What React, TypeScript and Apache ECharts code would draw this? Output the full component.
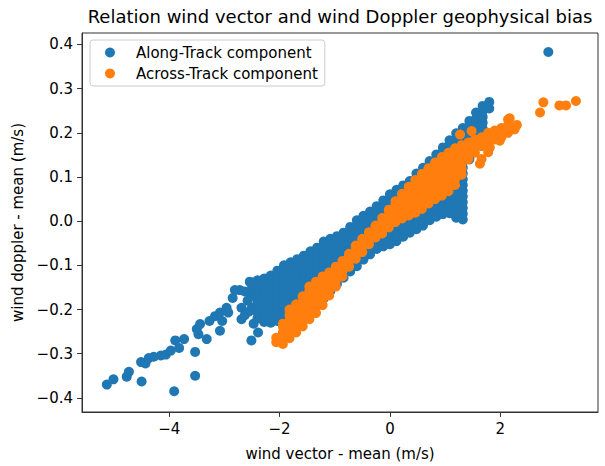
import React, { useEffect, useRef } from 'react';
import * as echarts from 'echarts';

const TITLE = 'Relation wind vector and wind Doppler geophysical bias';
const X_NAME = 'wind vector - mean (m/s)';
const Y_NAME = 'wind doppler - mean (m/s)';
const SERIES_NAMES = ['Along-Track component', 'Across-Track component'];
const X_TICKS = [-4, -2, 0, 2];
const Y_TICKS = [-0.4, -0.3, -0.2, -0.1, 0, 0.1, 0.2, 0.3, 0.4];

// Along-track: isolated points [x, y]
const alongScattered: number[][] = [
  [-5.13, -0.37], [-5.01, -0.358], [-4.77, -0.352], [-4.73, -0.341], [-4.5, -0.363],
  [-4.51, -0.319], [-4.43, -0.322], [-4.37, -0.31], [-4.28, -0.307], [-4.15, -0.304],
  [-4.06, -0.302], [-3.97, -0.293], [-3.91, -0.385], [-3.89, -0.27], [-3.82, -0.287],
  [-3.73, -0.267], [-3.53, -0.296], [-3.53, -0.35], [-3.5, -0.244], [-3.47, -0.256],
  [-3.44, -0.233], [-3.32, -0.267], [-3.27, -0.226], [-3.17, -0.215], [-3.08, -0.248],
  [-3.04, -0.226], [-2.96, -0.196], [-2.93, -0.207], [-2.85, -0.174], [-2.72, -0.156],
  [-2.63, -0.159], [-2.69, -0.196], [-2.69, -0.222], [-2.63, -0.213], [-2.54, -0.137],
  [-2.51, -0.27], [-2.39, -0.252], [-2.41, -0.144], [-2.81, -0.156], [-3.08, -0.207],
  [-2.58, -0.18], [-2.47, -0.232], [-2.56, -0.205],
  [2.87, 0.383],
];

// Along-track: dense band, each row is [x, y1, y2, ...]
const alongDense: number[][] = [
  [-2.50, -0.196, -0.168, -0.152, -0.142],
  [-2.40, -0.22, -0.207, -0.194, -0.181, -0.168, -0.155, -0.142, -0.134],
  [-2.28, -0.228, -0.215, -0.202, -0.189, -0.176, -0.163, -0.15, -0.137, -0.13],
  [-2.16, -0.23, -0.212, -0.199, -0.186, -0.173, -0.16, -0.147, -0.134, -0.123],
  [-2.04, -0.226, -0.209, -0.196, -0.183, -0.17, -0.157, -0.144, -0.131, -0.118, -0.112],
  [-1.92, -0.218, -0.202, -0.189, -0.176, -0.163, -0.15, -0.137, -0.124, -0.111, -0.1],
  [-1.80, -0.21, -0.197, -0.184, -0.171, -0.158, -0.145, -0.132, -0.119, -0.106, -0.093],
  [-1.68, -0.205, -0.192, -0.179, -0.166, -0.153, -0.14, -0.127, -0.114, -0.101, -0.086],
  [-1.56, -0.2, -0.187, -0.174, -0.161, -0.148, -0.135, -0.122, -0.109, -0.096, -0.083, -0.078],
  [-1.44, -0.195, -0.182, -0.169, -0.156, -0.143, -0.13, -0.117, -0.104, -0.091, -0.078, -0.068],
  [-1.32, -0.188, -0.175, -0.162, -0.149, -0.136, -0.123, -0.11, -0.097, -0.084, -0.071, -0.06],
  [-1.20, -0.175, -0.162, -0.149, -0.136, -0.123, -0.11, -0.097, -0.084, -0.071, -0.058, -0.046],
  [-1.08, -0.158, -0.145, -0.132, -0.119, -0.106, -0.093, -0.08, -0.067, -0.054, -0.04],
  [-0.96, -0.142, -0.129, -0.116, -0.103, -0.09, -0.077, -0.064, -0.051, -0.038, -0.034],
  [-0.84, -0.128, -0.115, -0.102, -0.089, -0.076, -0.063, -0.05, -0.037, -0.026],
  [-0.72, -0.114, -0.101, -0.088, -0.075, -0.062, -0.049, -0.036, -0.023, -0.013],
  [-0.60, -0.102, -0.089, -0.076, -0.063, -0.05, -0.037, -0.024, -0.011, 0.002],
  [-0.48, -0.087, -0.074, -0.061, -0.048, -0.035, -0.022, -0.009, 0.004, 0.012],
  [-0.36, -0.075, -0.062, -0.049, -0.036, -0.023, -0.01, 0.003, 0.016, 0.022],
  [-0.24, -0.063, -0.05, -0.037, -0.024, -0.011, 0.002, 0.015, 0.028, 0.034],
  [-0.12, -0.057, -0.044, -0.031, -0.018, -0.005, 0.008, 0.021, 0.034, 0.047],
  [0.00, -0.052, -0.039, -0.026, -0.013, 0.0, 0.013, 0.026, 0.039, 0.052, 0.061],
  [0.12, -0.045, -0.032, -0.019, -0.006, 0.007, 0.02, 0.033, 0.046, 0.059, 0.071],
  [0.24, -0.035, -0.022, -0.009, 0.004, 0.017, 0.03, 0.043, 0.056, 0.069, 0.081],
  [0.36, -0.026, -0.013, 0.0, 0.013, 0.026, 0.039, 0.052, 0.065, 0.078, 0.091],
  [0.48, -0.018, -0.005, 0.008, 0.021, 0.034, 0.047, 0.06, 0.073, 0.086, 0.099, 0.108],
  [0.60, -0.01, 0.003, 0.016, 0.029, 0.042, 0.055, 0.068, 0.081, 0.094, 0.107, 0.121],
  [0.72, 0.002, 0.015, 0.028, 0.041, 0.054, 0.067, 0.08, 0.093, 0.106, 0.119, 0.132, 0.136],
  [0.84, 0.01, 0.023, 0.036, 0.049, 0.062, 0.075, 0.088, 0.101, 0.114, 0.127, 0.14, 0.151],
  [0.96, 0.016, 0.029, 0.042, 0.055, 0.068, 0.081, 0.094, 0.107, 0.12, 0.133, 0.146, 0.159, 0.167],
  [1.08, 0.018, 0.031, 0.044, 0.057, 0.07, 0.083, 0.096, 0.109, 0.122, 0.135, 0.148, 0.161, 0.174, 0.183],
  [1.20, 0.008, 0.02, 0.031, 0.044, 0.057, 0.07, 0.083, 0.096, 0.109, 0.122, 0.135, 0.148, 0.161, 0.174, 0.187, 0.199],
  [1.32, 0.004, 0.017, 0.03, 0.043, 0.056, 0.069, 0.082, 0.095, 0.108, 0.121, 0.134, 0.147, 0.16, 0.173, 0.186, 0.199, 0.211],
  [1.44, 0.14, 0.153, 0.166, 0.179, 0.192, 0.205, 0.218, 0.227],
  [1.56, 0.18, 0.193, 0.206, 0.219, 0.232, 0.246],
  [1.68, 0.21, 0.223, 0.236, 0.249, 0.261],
  [1.80, 0.255, 0.27],
];

// Across-track: dense band, each row is [x, y1, y2, ...]
const acrossDense: number[][] = [
  [-2.06, -0.274, -0.264],
  [-1.94, -0.278, -0.265, -0.252, -0.239, -0.232],
  [-1.82, -0.265, -0.252, -0.239, -0.226, -0.213, -0.2],
  [-1.70, -0.252, -0.239, -0.226, -0.213, -0.2, -0.188],
  [-1.58, -0.238, -0.225, -0.212, -0.199, -0.186, -0.173, -0.17],
  [-1.46, -0.222, -0.209, -0.196, -0.183, -0.17, -0.157, -0.148],
  [-1.34, -0.208, -0.195, -0.182, -0.169, -0.156, -0.143, -0.137],
  [-1.22, -0.19, -0.177, -0.164, -0.151, -0.138, -0.125],
  [-1.10, -0.168, -0.155, -0.142, -0.129, -0.116],
  [-0.98, -0.148, -0.135, -0.122, -0.109, -0.103],
  [-0.86, -0.125, -0.112, -0.099, -0.09],
  [-0.74, -0.103, -0.09, -0.078, -0.074],
  [-0.62, -0.085, -0.072, -0.059, -0.055],
  [-0.50, -0.07, -0.057, -0.044, -0.04],
  [-0.38, -0.052, -0.039, -0.026, -0.025],
  [-0.26, -0.037, -0.024, -0.011, -0.01],
  [-0.14, -0.028, -0.015, -0.002, 0.007],
  [-0.02, -0.014, -0.001, 0.012, 0.024, 0.026],
  [0.10, -0.002, 0.011, 0.024, 0.037, 0.045],
  [0.22, 0.006, 0.019, 0.032, 0.045, 0.058, 0.062],
  [0.34, 0.013, 0.026, 0.039, 0.052, 0.065, 0.078],
  [0.46, 0.019, 0.032, 0.045, 0.058, 0.071, 0.084, 0.093],
  [0.58, 0.028, 0.041, 0.054, 0.067, 0.08, 0.093, 0.106, 0.107],
  [0.70, 0.04, 0.053, 0.066, 0.079, 0.092, 0.105, 0.118, 0.12],
  [0.82, 0.05, 0.063, 0.076, 0.089, 0.102, 0.115, 0.128, 0.133],
  [0.94, 0.058, 0.071, 0.084, 0.097, 0.11, 0.123, 0.136, 0.145],
  [1.06, 0.068, 0.081, 0.094, 0.107, 0.12, 0.133, 0.146, 0.155],
  [1.18, 0.082, 0.095, 0.108, 0.121, 0.134, 0.147, 0.16, 0.165],
  [1.30, 0.105, 0.118, 0.131, 0.144, 0.157, 0.17, 0.172],
  [1.42, 0.14, 0.153, 0.166, 0.178],
  [1.54, 0.155, 0.168, 0.181, 0.185],
  [1.66, 0.17, 0.183, 0.19],
  [1.78, 0.178, 0.19, 0.2],
  [1.90, 0.185, 0.196, 0.205],
  [2.02, 0.19, 0.2, 0.211],
  [2.14, 0.2, 0.21, 0.217],
  [2.26, 0.208, 0.214],
];

// Across-track: isolated points [x, y]
const acrossScattered: number[][] = [
  [1.27, 0.196], [1.48, 0.204], [1.63, 0.13], [1.66, 0.141], [1.78, 0.156],
  [1.81, 0.167], [1.99, 0.182], [2.3, 0.218], [2.14, 0.23], [2.17, 0.233],
  [2.72, 0.246], [2.78, 0.269], [3.07, 0.262], [3.19, 0.262], [3.37, 0.272],
];

const BLUE = '#1f77b4';
const ORANGE = '#ff7f0e';
const FONT = 'DejaVu Sans';

function expandColumns(cols: number[][]): number[][] {
  const out: number[][] = [];
  cols.forEach((col) => {
    const x = col[0];
    for (let i = 1; i < col.length; i++) out.push([x, col[i]]);
  });
  return out;
}

const minusFmt = (digits: number) => (v: number) => {
  const s = Math.abs(v) < 1e-9 ? (0).toFixed(digits) : v.toFixed(digits);
  return s.replace('-', '\u2212');
};

export default function App() {
  const ref = useRef<HTMLDivElement>(null);

  useEffect(() => {
    if (!ref.current) return;
    const chart = echarts.init(ref.current, undefined, { renderer: 'svg' });
    const alongData = [...expandColumns(alongDense), ...alongScattered];
    const acrossData = [...expandColumns(acrossDense), ...acrossScattered];

    const axisCommon = {
      type: 'value' as const,
      nameLocation: 'middle' as const,
      nameTextStyle: { fontSize: 15, color: '#000', fontFamily: FONT },
      axisLine: { show: true, onZero: false, lineStyle: { color: '#333', width: 1 } },
      splitLine: { show: false },
    };

    chart.setOption({
      animation: false,
      backgroundColor: '#ffffff',
      textStyle: { fontFamily: FONT },
      title: {
        text: TITLE,
        left: 335,
        top: 2,
        textAlign: 'center',
        textStyle: { fontSize: 18, fontWeight: 'normal', color: '#000', fontFamily: FONT },
      },
      grid: {
        left: 82,
        right: 7,
        top: 33,
        bottom: 46,
        show: true,
        borderColor: '#333',
        borderWidth: 1,
        backgroundColor: 'transparent',
      },
      legend: {
        orient: 'vertical',
        left: 90,
        top: 40,
        padding: [4, 7, 4, 15],
        itemWidth: 10,
        itemHeight: 10,
        itemGap: 4,
        icon: 'circle',
        backgroundColor: 'rgba(255,255,255,0.8)',
        borderColor: '#cccccc',
        borderWidth: 1,
        borderRadius: 3,
        selectedMode: false,
        textStyle: { fontSize: 15, color: '#000', fontFamily: FONT, padding: [0, 0, 0, 16], lineHeight: 17 },
        data: SERIES_NAMES,
      },
      xAxis: {
        ...axisCommon,
        min: -5.58,
        max: 3.77,
        name: X_NAME,
        nameGap: 34,
        axisTick: { show: true, length: 4.9, customValues: X_TICKS, lineStyle: { color: '#333' } },
        axisLabel: { customValues: X_TICKS, formatter: minusFmt(0), fontSize: 15, color: '#000', margin: 9, fontFamily: FONT },
      },
      yAxis: {
        ...axisCommon,
        min: -0.432,
        max: 0.426,
        name: Y_NAME,
        nameGap: 47,
        axisTick: { show: true, length: 4.9, customValues: Y_TICKS, lineStyle: { color: '#333' } },
        axisLabel: { customValues: Y_TICKS, formatter: minusFmt(1), fontSize: 15, color: '#000', margin: 9, fontFamily: FONT },
      },
      series: [
        {
          type: 'scatter',
          name: SERIES_NAMES[0],
          data: alongData,
          symbol: 'circle',
          symbolSize: 10,
          itemStyle: { color: BLUE, opacity: 1 },
          silent: true,
          z: 2,
        },
        {
          type: 'scatter',
          name: SERIES_NAMES[1],
          data: acrossData,
          symbol: 'circle',
          symbolSize: 10,
          itemStyle: { color: ORANGE, opacity: 1 },
          silent: true,
          z: 3,
        },
      ],
    });
    return () => chart.dispose();
  }, []);

  return <div ref={ref} style={{ position: 'absolute', left: 0, top: 0, width: 605, height: 466 }} />;
}
